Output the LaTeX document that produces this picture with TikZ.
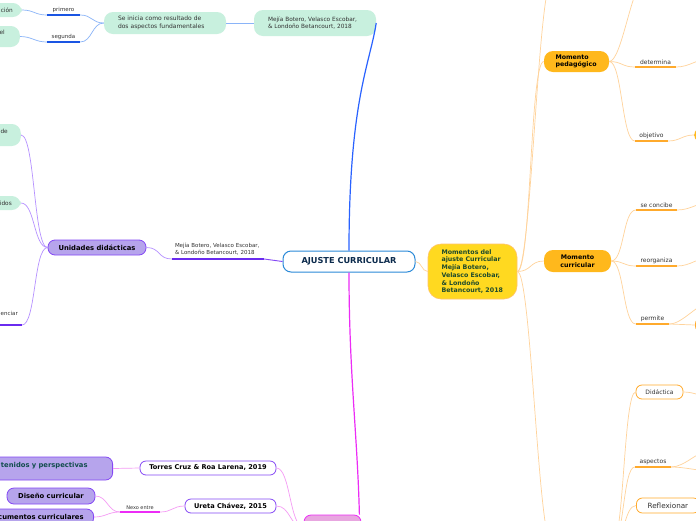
\documentclass[tikz,border=0pt]{standalone}
\usepackage{fontspec}
\setmainfont{DejaVu Sans}
\definecolor{mintfill}{HTML}{C8F0DE}
\definecolor{labtxt}{HTML}{333333}
\definecolor{bluelink}{HTML}{8AB4F8}
\definecolor{blueline}{HTML}{1A55E3}
\definecolor{bluemain}{HTML}{2962FF}
\definecolor{purplink}{HTML}{B691FF}
\definecolor{purpline}{HTML}{6A2BEF}
\definecolor{purpfill}{HTML}{B6A4EC}
\definecolor{purpdraw}{HTML}{8447F5}
\definecolor{orlink}{HTML}{FFD39B}
\definecolor{orline}{HTML}{FFAA2C}
\definecolor{orfill}{HTML}{FFB81C}
\definecolor{yelfill}{HTML}{FFD920}
\definecolor{magmain}{HTML}{EC2CF6}
\definecolor{maglink}{HTML}{F59CF5}
\definecolor{pinkfill}{HTML}{E8A6E0}
\definecolor{ajborder}{HTML}{2B8AD8}
\definecolor{ajtext}{HTML}{0B2A4C}
\definecolor{greentxt}{HTML}{1E4A2C}
\definecolor{tealtxt}{HTML}{124D4D}
\tikzset{
  mintbox/.style={fill=mintfill, rounded corners=9pt, text=labtxt, font=\fontsize{5.8}{7.8}\selectfont},
  ulab/.style={anchor=south, inner xsep=0pt, inner ysep=2.3pt, text=labtxt, font=\fontsize{6}{7}\selectfont},
  purpbox/.style={fill=purpfill, draw=purpdraw, line width=0.8pt, rounded corners=7pt, font=\bfseries\fontsize{6.8}{8}\selectfont},
  refbox/.style={fill=white, draw=purpdraw, line width=0.8pt, rounded corners=6pt, font=\bfseries\fontsize{6.6}{8}\selectfont},
  orbox/.style={fill=orfill, rounded corners=9pt, font=\bfseries\fontsize{6.3}{7.6}\selectfont},
  orwhite/.style={fill=white, draw=orline, line width=0.8pt, rounded corners=6pt, text=labtxt},
  blink/.style={bluelink, line width=0.7pt},
  bul/.style={blueline, line width=1.2pt},
  plink/.style={purplink, line width=0.7pt},
  pul/.style={purpline, line width=1.2pt},
  olink/.style={orlink, line width=0.7pt},
  oul/.style={orline, line width=1.2pt},
  mlink/.style={maglink, line width=0.7pt}
}
\begin{document}
\begin{tikzpicture}[x=1pt,y=-1pt]
\useasboundingbox (0,0) rectangle (696,520);
\clip (0,0) rectangle (696,520);
\fill[white] (0,0) rectangle (696,520);

% centre
\node[draw=ajborder, line width=1pt, fill=white, rounded corners=8pt, minimum width=132pt, minimum height=21pt, text=ajtext, font=\bfseries\fontsize{8.2}{9}\selectfont] (ajuste) at (349,261.5) {AJUSTE CURRICULAR};

% upper left branch
\node[mintbox, text width=94pt, inner xsep=14pt, minimum height=26pt, align=left] (mejTop) at (315,23) {Mejía Botero, Velasco Escobar,\\\& Londoño Betancourt, 2018};
\node[mintbox, text width=94pt, inner xsep=14pt, minimum height=22pt, align=left, font=\fontsize{6}{7.8}\selectfont] (inicia) at (165,23) {Se inicia como resultado de\\dos aspectos fundamentales};
\node[ulab, minimum width=33pt, font=\fontsize{5.5}{7}\selectfont] (prim) at (63.5,15) {primero};
\node[ulab, minimum width=33pt, font=\fontsize{5.5}{7}\selectfont] (segu) at (63.5,42) {segunda};
\node[mintbox, anchor=east, text width=40pt, align=right, inner xsep=9pt, minimum height=14pt] (ini1) at (22,10) {ación};
\node[mintbox, anchor=east, text width=40pt, align=right, inner xsep=15pt, minimum height=21pt] (ini2) at (20,36.5) {el\\\mbox{}};

\draw[bluemain, line width=1.2pt] (ajuste.north) .. controls +(0,-150) and +(-6,40) .. (mejTop.east);
\draw[blink] (mejTop.west) -- (inicia.east);
\draw[blink] (inicia.west) .. controls +(-12,0) and +(12,0) .. (prim.south east);
\draw[blink] (inicia.west) .. controls +(-12,0) and +(12,0) .. (segu.south east);
\draw[bul] (prim.south west) -- (prim.south east);
\draw[bul] (segu.south west) -- (segu.south east);
\draw[blink] (prim.south west) .. controls +(-12,0) and +(12,0) .. (ini1.east);
\draw[blink] (segu.south west) .. controls +(-12,0) and +(12,0) .. (ini2.east);

% left branch
\node[ulab, text width=86pt, inner xsep=3pt, inner ysep=3.5pt, align=left, font=\fontsize{5.5}{7}\selectfont] (mejMid) at (218,259) {Mejía Botero, Velasco Escobar,\\\& Londoño Betancourt, 2018};
\node[purpbox, minimum width=98pt, minimum height=15pt] (unid) at (97,247.5) {Unidades didácticas};
\node[mintbox, anchor=east, text width=40pt, align=right, inner xsep=13pt, minimum height=22pt] (uni1) at (21,135) {de\\\mbox{}};
\node[mintbox, anchor=east, text width=40pt, align=right, inner xsep=9pt, minimum height=14pt] (uni2) at (21,203) {idos};
\node[anchor=base east, inner sep=0pt, text=labtxt, font=\fontsize{5.5}{7}\selectfont] (enc) at (18,315) {enciar};
\coordinate (encR) at (22,325);
\coordinate (encL) at (-20,325);

\draw[purpdraw, line width=0.9pt] (ajuste.west) -- (mejMid.south east);
\draw[pul] (mejMid.south west) -- (mejMid.south east);
\draw[plink] (mejMid.south west) .. controls +(-14,0) and +(14,0) .. (unid.east);
\draw[plink] (unid.west) .. controls +(-14,0) and +(14,0) .. (uni1.east);
\draw[plink] (unid.west) .. controls +(-14,0) and +(14,0) .. (uni2.east);
\draw[plink] (unid.west) .. controls +(-14,0) and +(14,0) .. (encR);
\draw[pul] (encL) -- (encR);

% lower left branch
\node[fill=pinkfill, draw=magmain, line width=0.8pt, rounded corners=7pt, minimum width=57pt, minimum height=24pt] (pinkB) at (332.5,527) {};
\node[refbox, minimum width=136pt, minimum height=14pt] (torres) at (208,468) {Torres Cruz \& Roa Larena, 2019};
\node[refbox, minimum width=91pt, minimum height=14pt] (ureta) at (230.5,506) {Ureta Chávez, 2015};
\node[purpbox, anchor=east, text width=110pt, align=right, inner xsep=25pt, minimum height=23pt, text=tealtxt] (persp) at (113,468.5) {tenidos y perspectivas\\\mbox{}};
\node[purpbox, minimum width=88pt, minimum height=16pt] (diseno) at (51,496) {Diseño curricular};
\node[purpbox, anchor=east, text width=110pt, align=right, inner xsep=10pt, minimum height=16pt] (docs) at (94,517) {cumentos curriculares};
\node[ulab, minimum width=40pt, font=\fontsize{5}{6}\selectfont] (nexo) at (140,512) {Nexo entre};

\draw[magmain, line width=1.2pt] (ajuste.south) .. controls +(0,100) and +(-2,-80) .. ([xshift=-2pt]pinkB.north east);
\draw[mlink] (torres.east) .. controls +(14,0) and +(-14,0) .. (pinkB.west);
\draw[mlink] (ureta.east) .. controls +(14,0) and +(-14,0) .. (pinkB.west);
\draw[mlink] (torres.west) -- (persp.east);
\draw[mlink] (ureta.west) .. controls +(-12,0) and +(12,0) .. (nexo.south east);
\draw[magmain, line width=1.2pt] (nexo.south west) -- (nexo.south east);
\draw[mlink] (nexo.south west) .. controls +(-12,0) and +(12,0) .. (diseno.east);
\draw[mlink] (nexo.south west) .. controls +(-12,0) and +(12,0) .. (docs.east);

% right branch
\node[fill=yelfill, draw=orline!70, line width=0.6pt, rounded corners=13pt, text width=62pt, inner xsep=13.5pt, minimum height=55pt, align=left, text=greentxt, font=\bfseries\fontsize{6.3}{7.7}\selectfont] (momentos) at (472.5,271.5) {Momentos del\\ajuste Curricular\\Mejía Botero,\\Velasco Escobar,\\\& Londoño\\Betancourt, 2018};
\node[orbox, text width=42pt, inner xsep=11.5pt, minimum height=21pt, align=left] (pedag) at (576.5,61.5) {Momento\\pedagógico};
\node[orbox, minimum width=67pt, minimum height=22pt, align=center] (curric) at (577.5,261) {Momento\\curricular};
\node[ulab, minimum width=41pt] (det) at (655.5,67) {determina};
\node[ulab, minimum width=33pt] (obj) at (651.5,141) {objetivo};
\node[ulab, minimum width=41pt] (conc) at (656.5,210) {se concibe};
\node[ulab, minimum width=41pt] (reorg) at (656.5,266) {reorganiza};
\node[ulab, minimum width=33pt] (perm) at (652.5,324) {permite};
\node[ulab, minimum width=36pt] (asp) at (653,467) {aspectos};
\node[orbox, anchor=west, minimum width=50pt, minimum height=17pt] (objN) at (694,135) {};
\node[orwhite, anchor=west, minimum width=50pt, minimum height=14pt] (permN) at (695,325) {};
\node[orwhite, minimum width=47pt, minimum height=14pt, font=\fontsize{6}{7}\selectfont] (didac) at (659.5,392) {Didáctica};
\node[orwhite, anchor=west, minimum width=63pt, minimum height=15pt, font=\fontsize{7.2}{8}\selectfont] (reflex) at (636,505.5) {Reflexionar};
\coordinate (momT) at (552,-20);
\coordinate (momB) at (552,545);
\coordinate (pedT) at (645,-20);
\coordinate (botR) at (612,545);
\coordinate (detX) at (712,58);
\coordinate (concX) at (712,202);
\coordinate (reorgX) at (712,257);
\coordinate (permX) at (712,302);
\coordinate (didX) at (712,397);
\coordinate (aspA) at (712,450);
\coordinate (aspB) at (712,471);

\draw[olink] (ajuste.east) .. controls +(6,0) and +(-6,0) .. (momentos.west);
\draw[olink] (momentos.east) .. controls +(14,0) and +(-14,0) .. (momT);
\draw[olink] (momentos.east) .. controls +(14,0) and +(-14,0) .. (momB);
\draw[olink] (momentos.east) .. controls +(14,0) and +(-14,0) .. (pedag.west);
\draw[olink] (momentos.east) .. controls +(14,0) and +(-14,0) .. (curric.west);
\draw[olink] (pedag.east) .. controls +(13,0) and +(-13,0) .. (pedT);
\draw[olink] (pedag.east) .. controls +(13,0) and +(-13,0) .. (det.south west);
\draw[olink] (pedag.east) .. controls +(13,0) and +(-13,0) .. (obj.south west);
\draw[olink] (curric.east) .. controls +(13,0) and +(-13,0) .. (conc.south west);
\draw[olink] (curric.east) .. controls +(13,0) and +(-13,0) .. (reorg.south west);
\draw[olink] (curric.east) .. controls +(13,0) and +(-13,0) .. (perm.south west);
\foreach \lab in {det,obj,conc,reorg,perm,asp}
  \draw[oul] (\lab.south west) -- (\lab.south east);
\draw[olink] (det.south east) .. controls +(14,0) and +(-14,0) .. (detX);
\draw[olink] (obj.south east) .. controls +(12,0) and +(-12,0) .. (objN.west);
\draw[olink] (conc.south east) .. controls +(14,0) and +(-14,0) .. (concX);
\draw[olink] (reorg.south east) .. controls +(14,0) and +(-14,0) .. (reorgX);
\draw[olink] (perm.south east) .. controls +(14,0) and +(-14,0) .. (permX);
\draw[olink] (perm.south east) -- (permN.west);
\draw[olink] (botR) .. controls +(12,0) and +(-12,0) .. (didac.west);
\draw[olink] (botR) .. controls +(12,0) and +(-12,0) .. (asp.south west);
\draw[olink] (botR) .. controls +(12,0) and +(-12,0) .. (reflex.west);
\draw[olink] (didac.east) .. controls +(12,0) and +(-12,0) .. (didX);
\draw[olink] (asp.south east) .. controls +(14,0) and +(-14,0) .. (aspA);
\draw[olink] (asp.south east) .. controls +(14,0) and +(-14,0) .. (aspB);
\end{tikzpicture}
\end{document}
